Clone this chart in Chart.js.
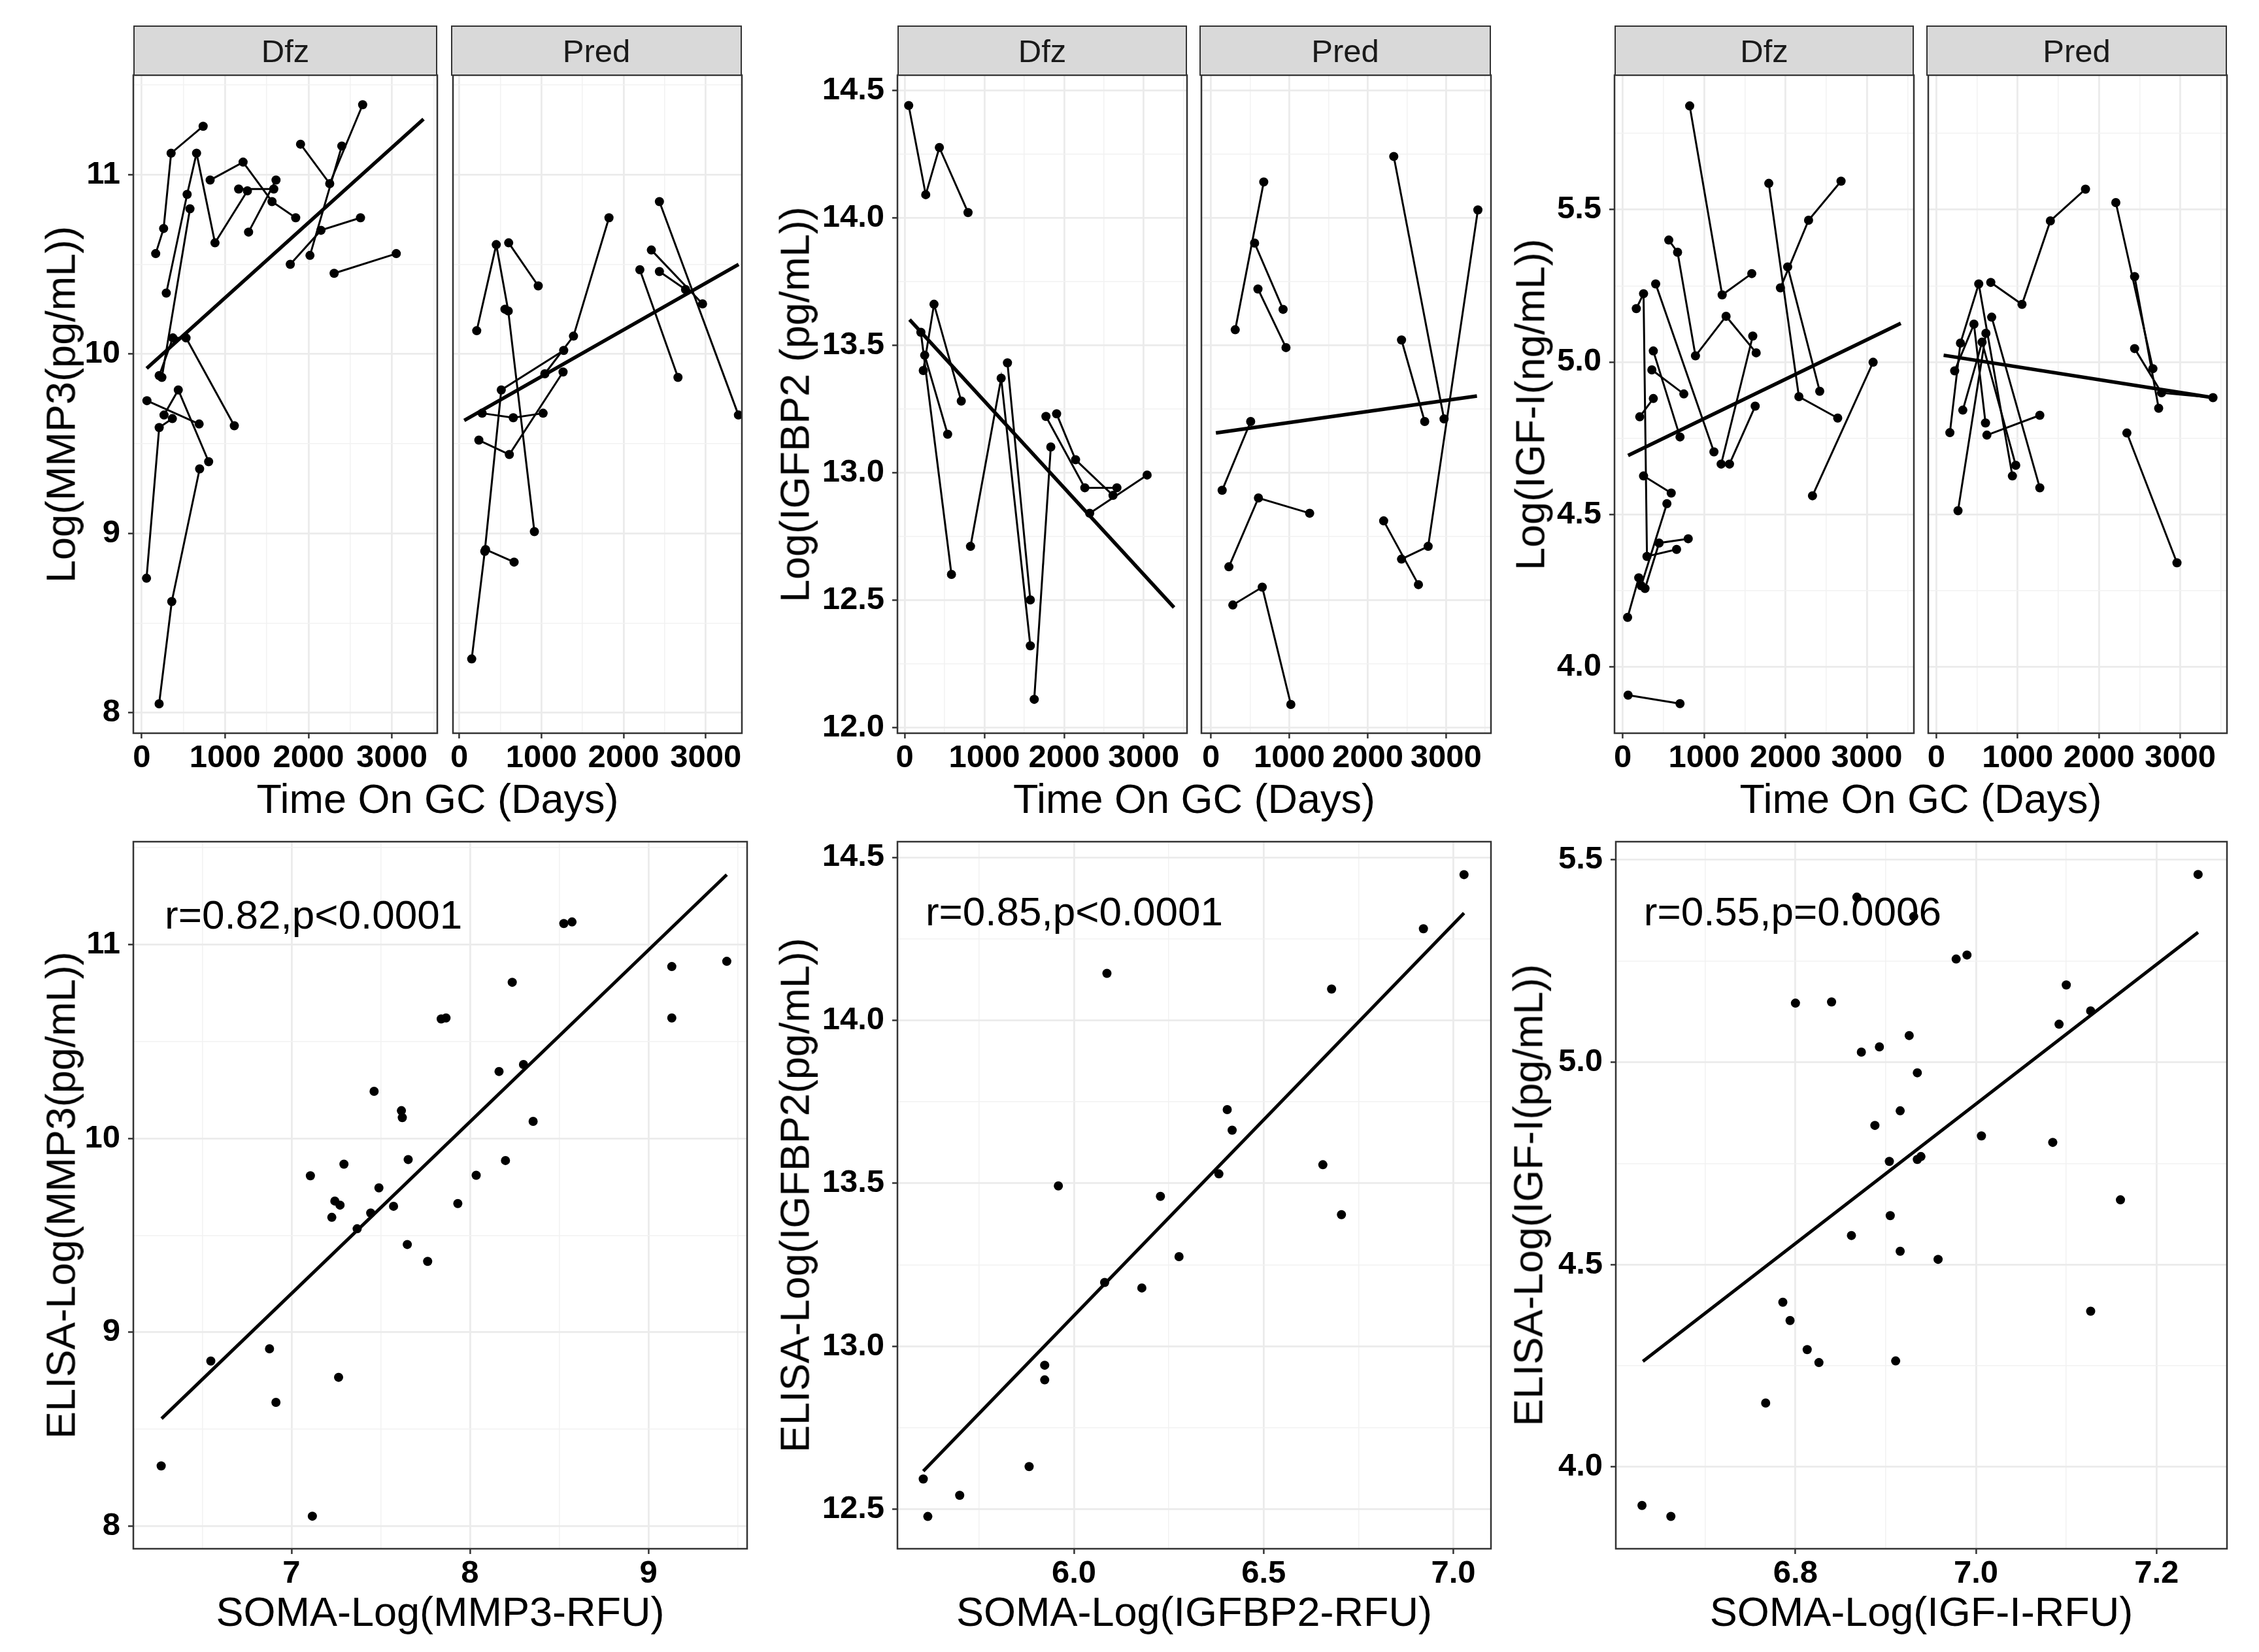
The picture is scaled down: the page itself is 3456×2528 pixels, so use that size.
<!DOCTYPE html>
<html>
<head>
<meta charset="utf-8">
<title>MMP3, IGFBP2 and IGF-I over time on GC</title>
<script src="https://cdn.jsdelivr.net/npm/chart.js"></script>
<style>
  html, body { margin: 0; padding: 0; background: #fff; }
  body { position: relative; width: 3456px; height: 2528px; overflow: hidden;
         font-family: "Liberation Sans", Arial, sans-serif; }
  canvas { position: absolute; }
  .strip { position: absolute; box-sizing: border-box; background: #d9d9d9;
           border: 2.5px solid #333; color: #1a1a1a; font-size: 49px;
           display: flex; align-items: center; justify-content: center; }
  .title { position: absolute; font-size: 63px; color: #000; white-space: nowrap;
           line-height: 1; transform: translate(-50%, -50%); }
  .title.y { transform: translate(-50%, -50%) rotate(-90deg); }
</style>
</head>
<body>
<script>
// ---- data: one [day, log value] list per subject ----
const mmp3Dfz = [
  [[168,10.56],[263,10.70],[353,11.12],[737,11.27]],
  [[295,10.34],[545,10.89],[658,11.12],[879,10.62],[1268,10.91]],
  [[242,9.87],[579,10.81]],
  [[210,9.88],[374,10.09],[532,10.09],[1111,9.60]],
  [[821,10.97],[1216,11.07],[1563,10.85],[1847,10.76]],
  [[1163,10.92],[1584,10.92]],
  [[1282,10.68],[1611,10.97]],
  [[1905,11.17],[2255,10.95],[2650,11.39]],
  [[2018,10.55],[2400,11.16]],
  [[1782,10.50],[2150,10.69],[2624,10.76]],
  [[2308,10.45],[3053,10.56]],
  [[63,9.74],[689,9.61]],
  [[268,9.66],[439,9.80],[803,9.40]],
  [[58,8.75],[210,9.59],[368,9.64]],
  [[209,8.05],[361,8.62],[695,9.36]]
];
const mmp3Pred = [
  [[212,10.13],[450,10.61],[596,10.24],[914,9.01]],
  [[556,10.25]],
  [[601,10.62],[961,10.38]],
  [[151,8.30],[310,8.90],[511,9.80],[1271,10.02]],
  [[320,8.91],[667,8.84]],
  [[278,9.67],[657,9.645],[1020,9.67]],
  [[238,9.52],[609,9.44],[1263,9.90]],
  [[1041,9.89],[1390,10.10],[1822,10.76]],
  [[2338,10.58],[2961,10.28]],
  [[2436,10.46],[2754,10.36]],
  [[2198,10.47],[2662,9.87]],
  [[2436,10.85],[3398,9.66]]
];
const igfbp2Dfz = [
  [[49,14.44],[263,14.09],[434,14.275],[794,14.02]],
  [[232,13.40],[367,13.66],[709,13.28]],
  [[250,13.46],[538,13.15]],
  [[202,13.55],[586,12.60]],
  [[825,12.71],[1210,13.37],[1576,12.32]],
  [[1289,13.43],[1576,12.50]],
  [[1625,12.11],[1833,13.10]],
  [[1772,13.22],[2260,12.94],[2663,12.94]],
  [[1906,13.23],[2144,13.05],[2614,12.91]],
  [[2321,12.84],[3042,12.99]]
];
const igfbp2Pred = [
  [[309,13.56],[673,14.14]],
  [[556,13.90],[920,13.64]],
  [[599,13.72],[957,13.49]],
  [[142,12.93],[506,13.20]],
  [[228,12.63],[605,12.90],[1259,12.84]],
  [[278,12.48],[654,12.55],[1019,12.09]],
  [[2333,14.24],[2975,13.21]],
  [[2432,13.52],[2728,13.20]],
  [[2204,12.81],[2648,12.56]],
  [[2432,12.66],[2772,12.71],[3407,14.03]]
];
const igf1Dfz = [
  [[823,5.84],[1222,5.22],[1586,5.29]],
  [[566,5.40],[674,5.36],[894,5.02],[1270,5.15],[1640,5.03]],
  [[1210,4.665],[1598,5.085]],
  [[1312,4.665],[1628,4.855]],
  [[405,5.256],[1121,4.705]],
  [[167,5.175],[256,5.224],[298,4.362],[662,4.385]],
  [[274,4.257],[447,4.406],[805,4.42]],
  [[227,4.266],[543,4.535]],
  [[60,4.162],[197,4.292]],
  [[256,4.626],[596,4.57]],
  [[209,4.82],[376,4.88]],
  [[358,4.974],[751,4.895]],
  [[376,5.036],[704,4.754]],
  [[66,3.907],[704,3.879]],
  [[1795,5.586],[2165,4.886],[2642,4.816]],
  [[1938,5.243],[2284,5.465],[2683,5.593]],
  [[2027,5.312],[2421,4.904]],
  [[2332,4.561],[3077,4.999]]
];
const igf1Pred = [
  [[166,4.768],[296,5.062],[521,5.256],[935,4.626]],
  [[225,4.971],[462,5.124],[604,4.80]],
  [[325,4.842],[562,5.065],[976,4.661]],
  [[266,4.512],[609,5.094]],
  [[680,5.147],[1272,4.587]],
  [[621,4.76],[1272,4.825]],
  [[669,5.261],[1053,5.189],[1402,5.463],[1834,5.567]],
  [[2207,5.523],[2663,4.978]],
  [[2438,5.28],[2734,4.848]],
  [[2438,5.044],[2769,4.899],[3402,4.883]],
  [[2343,4.767],[2959,4.341]]
];

// linear fits as drawn in the figure: [start, end]
const fitMmp3Dfz = [[60,9.92],[3380,11.31]];
const fitMmp3Pred = [[60,9.63],[3400,10.50]];
const fitIgfbp2Dfz = [[60,13.60],[3380,12.47]];
const fitIgfbp2Pred = [[62,13.155],[3395,13.30]];
const fitIgf1Dfz = [[66,4.693],[3417,5.127]];
const fitIgf1Pred = [[89,5.022],[3402,4.883]];

// SOMA vs ELISA
const somaMmp3 = [6.270,6.548,6.877,6.913,7.264,7.117,7.106,7.294,7.243,7.272,7.226,7.368,7.444,7.490,7.463,7.572,7.616,7.621,7.654,7.649,7.763,7.839,7.866,7.932,8.035,8.163,8.199,8.237,8.300,8.354,8.526,8.572,9.131,9.131,9.439];
const elisaMmp3 = [8.311,8.852,8.915,8.639,8.768,8.052,9.807,9.867,9.677,9.656,9.593,9.534,9.615,9.745,10.243,9.650,10.143,10.107,9.891,9.453,9.366,10.616,10.621,9.664,9.810,10.345,9.886,10.805,10.381,10.088,11.108,11.116,10.886,10.621,10.913];
const somaIgfbp2 = [5.603,5.615,5.699,5.882,5.923,5.923,5.959,6.081,6.087,6.179,6.228,6.277,6.382,6.404,6.417,6.656,6.679,6.705,6.921,7.028];
const elisaIgfbp2 = [12.593,12.478,12.543,12.631,12.942,12.897,13.492,13.196,14.144,13.179,13.460,13.275,13.529,13.726,13.663,13.557,14.096,13.404,14.281,14.447];
const somaIgf1 = [6.630,6.662,6.767,6.786,6.794,6.813,6.826,6.800,6.840,6.862,6.868,6.873,6.888,6.893,6.904,6.905,6.911,6.916,6.916,6.926,6.931,6.935,6.935,6.939,6.958,6.978,6.990,7.006,7.085,7.092,7.100,7.127,7.127,7.160,7.246];
const elisaIgf1 = [3.905,3.878,4.158,4.407,4.362,4.290,4.258,5.146,5.149,4.572,5.408,5.025,4.844,5.038,4.755,4.621,4.262,4.880,4.533,5.066,5.360,4.974,4.760,4.767,4.513,5.255,5.265,4.818,4.802,5.094,5.191,5.127,4.385,4.660,5.464];
const fitMmp3 = [[6.272,8.555],[9.439,11.36]];
const fitIgfbp2 = [[5.603,12.617],[7.028,14.329]];
const fitIgf1 = [[6.631,4.261],[7.246,5.321]];

// tick labels
const dayTicks = [0,1000,2000,3000];
const mmp3Ticks = [8,9,10,11];
const igfbp2Ticks = [12.0,12.5,13.0,13.5,14.0,14.5];
const igf1Ticks = [4.0,4.5,5.0,5.5];
const somaMmp3Ticks = [7,8,9];
const somaIgfbp2Ticks = [6.0,6.5,7.0];
const somaIgf1Ticks = [6.6,6.8,7.0,7.2];
const elisaIgfbp2Ticks = [12.5,13.0,13.5,14.0,14.5];

// ---- layout ----
const FONT = '"Liberation Sans", Arial, sans-serif';
const TOP = { y0: 115, y1: 1122, strip: 39 };
const BOT = { y0: 1288, y1: 2370 };
const YAXIS_W = 200, XAXIS_H = 80;
const POINT_R = 7, PATH_W = 3, FIT_W = 5.5;

const panelBorder = {
  id: 'panelBorder',
  afterDraw(chart) {
    const { ctx, chartArea: a } = chart;
    ctx.save();
    ctx.strokeStyle = '#333';
    ctx.lineWidth = 2.5;
    ctx.strokeRect(a.left, a.top, a.right - a.left, a.bottom - a.top);
    ctx.restore();
  }
};

function withMinors(majors, lo, hi) {
  const step = majors[1] - majors[0];
  const vals = majors.concat(majors.map(m => m + step / 2), [majors[0] - step / 2]);
  return vals.filter(v => v >= lo - 1e-9 && v <= hi + 1e-9).sort((a, b) => a - b);
}

function axis(pos, range, majors, fmt, showLabels, size) {
  const all = withMinors(majors, range[0], range[1]);
  const major = v => majors.some(m => Math.abs(m - v) < 1e-9);
  const isMaj = ctx => ctx.tick && major(ctx.tick.value);
  return {
    type: 'linear', position: pos, min: range[0], max: range[1],
    afterBuildTicks: ax => { ax.ticks = all.map(v => ({ value: v })); },
    afterFit: ax => { if (pos === 'left') ax.width = size; else ax.height = size; },
    border: { display: false },
    grid: {
      color: ctx => isMaj(ctx) ? '#ebebeb' : '#f2f2f2',
      lineWidth: ctx => isMaj(ctx) ? 2.8 : 1.5,
      drawTicks: showLabels,
      tickLength: 8,
      tickWidth: 2.5,
      tickColor: ctx => isMaj(ctx) ? '#333' : 'rgba(0,0,0,0)'
    },
    ticks: {
      display: showLabels, autoSkip: false, maxRotation: 0, minRotation: 0,
      padding: pos === 'left' ? 12 : 1,
      color: '#000',
      font: { family: FONT, size: 49, weight: 'bold' },
      callback: v => major(v) ? fmt(v) : ''
    }
  };
}

function makeChart(box, showY, xAx, yAx, datasets, extra) {
  const padL = showY ? YAXIS_W : 4, padT = 44, padR = 60, padB = XAXIS_H;
  const w = box.x1 - box.x0 + padL + padR;
  const h = box.y1 - box.y0 + padT + padB;
  const c = document.createElement('canvas');
  c.width = w; c.height = h;
  c.style.left = (box.x0 - padL) + 'px';
  c.style.top = (box.y0 - padT) + 'px';
  c.style.width = w + 'px';
  c.style.height = h + 'px';
  document.body.appendChild(c);
  return new Chart(c, {
    type: 'scatter',
    data: { datasets },
    options: {
      responsive: false, animation: false, devicePixelRatio: 1, events: [],
      layout: { padding: { left: showY ? 0 : 4, top: padT, right: padR, bottom: 0 } },
      plugins: { legend: { display: false }, tooltip: { enabled: false } },
      scales: { x: xAx, y: yAx }
    },
    plugins: [panelBorder].concat(extra || [])
  });
}

function subjectSets(subjects, fit) {
  const sets = subjects.map(s => ({
    data: s.map(([x, y]) => ({ x, y })),
    showLine: true, borderColor: '#000', borderWidth: PATH_W,
    pointRadius: POINT_R, pointBackgroundColor: '#000', pointBorderWidth: 0
  }));
  sets.unshift({
    data: fit.map(([x, y]) => ({ x, y })),
    showLine: true, borderColor: '#000', borderWidth: FIT_W, pointRadius: 0
  });
  return sets;
}

function scatterSets(xs, ys, fit) {
  return [
    { data: fit.map(([x, y]) => ({ x, y })), showLine: true, borderColor: '#000',
      borderWidth: FIT_W - 0.5, pointRadius: 0 },
    { data: xs.map((x, i) => ({ x, y: ys[i] })), showLine: false,
      pointRadius: POINT_R, pointBackgroundColor: '#000', pointBorderWidth: 0 }
  ];
}

function corrLabel(text, x, y) {
  return {
    id: 'corrLabel',
    beforeDatasetsDraw(chart) {
      const { ctx, scales } = chart;
      ctx.save();
      ctx.font = '62px ' + FONT;
      ctx.fillStyle = '#000';
      ctx.textAlign = 'left';
      ctx.textBaseline = 'middle';
      ctx.fillText(text, scales.x.getPixelForValue(x), scales.y.getPixelForValue(y));
      ctx.restore();
    }
  };
}

function addDiv(cls, text, css) {
  const d = document.createElement('div');
  d.className = cls;
  d.textContent = text;
  Object.assign(d.style, css);
  document.body.appendChild(d);
}

const int = v => String(v);
const one = v => v.toFixed(1);

// ---- top row: two facets per marker ----
const facetRows = [
  { sets: [mmp3Dfz, mmp3Pred], fits: [fitMmp3Dfz, fitMmp3Pred],
    boxes: [{ x0: 204, x1: 669 }, { x0: 690, x1: 1135 }],
    xr: [[-100, 3545], [-77, 3440]], yr: [7.886, 11.555], yt: mmp3Ticks, yf: int,
    ytitle: 'Log(MMP3(pg/mL))', ytx: 93 },
  { sets: [igfbp2Dfz, igfbp2Pred], fits: [fitIgfbp2Dfz, fitIgfbp2Pred],
    boxes: [{ x0: 1373, x1: 1816 }, { x0: 1835, x1: 2281 }],
    xr: [[-92, 3543], [-123, 3574]], yr: [11.977, 14.559], yt: igfbp2Ticks, yf: one,
    ytitle: 'Log(IGFBP2 (pg/mL))', ytx: 1216 },
  { sets: [igf1Dfz, igf1Pred], fits: [fitIgf1Dfz, fitIgf1Pred],
    boxes: [{ x0: 2470, x1: 2928 }, { x0: 2947, x1: 3407 }],
    xr: [[-101, 3578], [-100, 3574]], yr: [3.782, 5.941], yt: igf1Ticks, yf: one,
    ytitle: 'Log(IGF-I(ng/mL))', ytx: 2341 }
];
const facetNames = ['Dfz', 'Pred'];

facetRows.forEach(row => {
  row.boxes.forEach((b, i) => {
    const box = { x0: b.x0, x1: b.x1, y0: TOP.y0, y1: TOP.y1 };
    makeChart(box, i === 0,
      axis('bottom', row.xr[i], dayTicks, int, true, XAXIS_H),
      axis('left', row.yr, row.yt, row.yf, i === 0, i === 0 ? YAXIS_W : 0),
      subjectSets(row.sets[i], row.fits[i]));
    addDiv('strip', facetNames[i], {
      left: b.x0 + 'px', top: TOP.strip + 'px',
      width: (b.x1 - b.x0) + 'px', height: (TOP.y0 - TOP.strip + 1) + 'px'
    });
  });
  const cx = (row.boxes[0].x0 + row.boxes[1].x1) / 2;
  addDiv('title', 'Time On GC (Days)', { left: cx + 'px', top: '1222px' });
  addDiv('title y', row.ytitle, { left: row.ytx + 'px', top: ((TOP.y0 + TOP.y1) / 2) + 'px' });
});

// ---- bottom row: SOMA vs ELISA ----
const scatterRows = [
  { xs: somaMmp3, ys: elisaMmp3, fit: fitMmp3, box: { x0: 204, x1: 1143 },
    xr: [6.114, 9.553], yr: [7.884, 11.53], xt: somaMmp3Ticks, xf: int, yt: mmp3Ticks, yf: int,
    label: ['r=0.82,p<0.0001', 6.29, 11.14],
    xtitle: 'SOMA-Log(MMP3-RFU)', ytitle: 'ELISA-Log(MMP3(pg/mL))', ytx: 93 },
  { xs: somaIgfbp2, ys: elisaIgfbp2, fit: fitIgfbp2, box: { x0: 1373, x1: 2281 },
    xr: [5.535, 7.099], yr: [12.379, 14.548], xt: somaIgfbp2Ticks, xf: one, yt: elisaIgfbp2Ticks, yf: one,
    label: ['r=0.85,p<0.0001', 5.609, 14.326],
    xtitle: 'SOMA-Log(IGFBP2-RFU)', ytitle: 'ELISA-Log(IGFBP2(pg/mL))', ytx: 1216 },
  { xs: somaIgf1, ys: elisaIgf1, fit: fitIgf1, box: { x0: 2472, x1: 3407 },
    xr: [6.601, 7.278], yr: [3.798, 5.545], xt: somaIgf1Ticks, xf: one, yt: igf1Ticks, yf: one,
    label: ['r=0.55,p=0.0006', 6.632, 5.366],
    xtitle: 'SOMA-Log(IGF-I-RFU)', ytitle: 'ELISA-Log(IGF-I(pg/mL))', ytx: 2338 }
];

scatterRows.forEach(r => {
  const box = { x0: r.box.x0, x1: r.box.x1, y0: BOT.y0, y1: BOT.y1 };
  makeChart(box, true,
    axis('bottom', r.xr, r.xt, r.xf, true, XAXIS_H),
    axis('left', r.yr, r.yt, r.yf, true, YAXIS_W),
    scatterSets(r.xs, r.ys, r.fit),
    [corrLabel(r.label[0], r.label[1], r.label[2])]);
  addDiv('title', r.xtitle, { left: ((r.box.x0 + r.box.x1) / 2) + 'px', top: '2466px' });
  addDiv('title y', r.ytitle, { left: r.ytx + 'px', top: ((BOT.y0 + BOT.y1) / 2) + 'px' });
});
</script>
</body>
</html>
